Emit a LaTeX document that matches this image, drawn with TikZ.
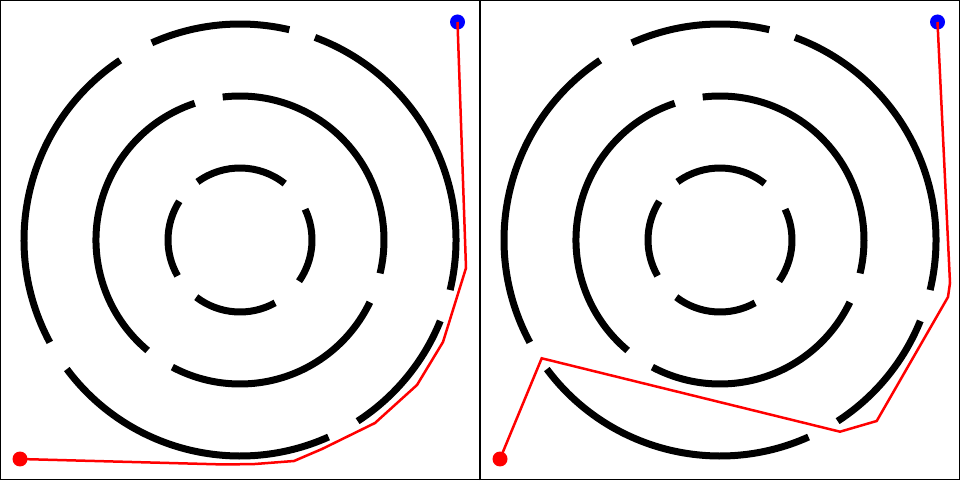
\documentclass[tikz,border=0pt]{standalone}
\usepackage{xcolor}
\usepackage{tikz}
\usetikzlibrary{calc}
\definecolor{routered}{HTML}{FF0000}
\definecolor{goalblue}{HTML}{0000FF}

\tikzset{
  wall/.style={line width=0.14cm,black,line cap=butt},
  route/.style={line width=0.05cm,routered,line join=miter},
  endpoint/.style={circle,fill=#1,inner sep=0pt,minimum size=0.3cm},
  frame/.style={line width=0.026cm,black}
}

\begin{document}
\begin{tikzpicture}[x=0.02cm,y=0.02cm]
    \useasboundingbox (0,0) rectangle (960,480);
    \draw[frame] (0.5,0.5) rectangle (959.5,479.5);
    \draw[frame] (480,0) -- (480,480);
    \foreach \cx in {240,720} {
      \foreach \rad/\a/\b in {216/76.8/114.1, 216/-13.4/69.7, 216/-57/-22, 216/216.7/294.2, 216/123.7/208.3,
                              144/-13.4/96.9, 144/242/334.4, 144/108.3/230.1,
                              72/51.6/126.2, 72/147.5/209.9, 72/232.6/299.2, 72/-34.9/25.3}
        \draw[wall] (\cx,240) ++(\a:\rad) arc[start angle=\a, end angle=\b, radius=\rad];
    }
    \node[endpoint=routered] (startL) at (20,21) {};
    \node[endpoint=goalblue] (goalL) at (457.5,458) {};
    \node[endpoint=routered] (startR) at (500,21) {};
    \node[endpoint=goalblue] (goalR) at (937.5,458) {};
    \draw[route] (startL.center) -- (225,15.5) -- (255,16) -- (294,19) -- (322,31) -- (375,57)
      -- (417,95) -- (443,138) -- (466,212) -- (goalL.center);
    \draw[route] (startR.center) -- (541.7,121.7) -- (840,48.3) -- (876.7,59) -- (948,183)
      -- (950,197) -- (goalR.center);
  \end{tikzpicture}
\end{document}
